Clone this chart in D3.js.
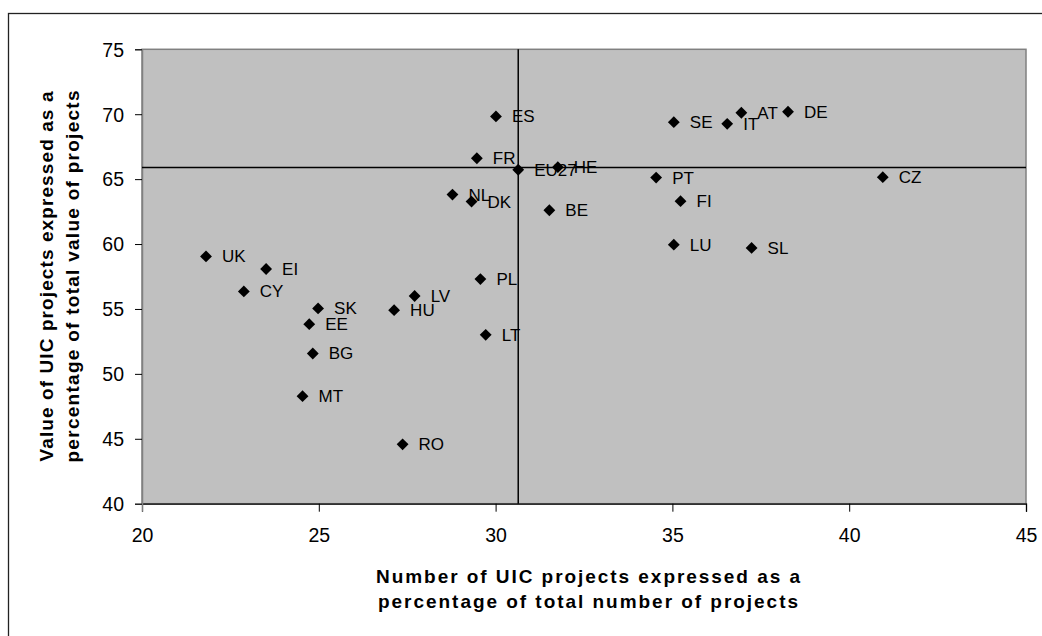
<!DOCTYPE html>
<html>
<head>
<meta charset="utf-8">
<script src="https://cdn.jsdelivr.net/npm/d3@7"></script>
<style>
  body { margin: 0; background: #fff; }
  text { font-family: "Liberation Sans", Arial, sans-serif; fill: #000; }
</style>
</head>
<body>
<div class="chart"></div>
<script>
// country codes and values (x = share of projects %, y = share of value %)
var countries = ["UK", "EI", "CY", "SK", "EE", "BG", "MT", "HU", "LV", "RO",
                 "PL", "LT", "ES", "FR", "EU27", "HE", "SE", "PT", "NL", "DK",
                 "BE", "FI", "LU", "IT", "AT", "DE", "CZ", "SL"];
var xValues = [21.81, 23.51, 22.88, 24.98, 24.73, 24.83, 24.54, 27.13, 27.71, 27.37,
               29.57, 29.72, 30.01, 29.47, 30.64, 31.76, 35.04, 34.54, 28.78, 29.32,
               31.52, 35.23, 35.04, 36.55, 36.95, 38.27, 40.95, 37.24];
var yValues = [59.05, 58.08, 56.35, 55.04, 53.83, 51.57, 48.28, 54.91, 56.0, 44.57,
               57.3, 53.01, 69.83, 66.61, 65.72, 65.92, 69.39, 65.12, 63.81, 63.27,
               62.6, 63.3, 59.95, 69.26, 70.11, 70.19, 65.15, 59.7];
var xTicks = [20, 25, 30, 35, 40, 45];
var yTicks = [40, 45, 50, 55, 60, 65, 70, 75];
var refX = 30.64;   // vertical reference line
var refY = 65.9;    // horizontal reference line

var width = 1042, height = 636;
var plotL = 142, plotR = 1026, plotT = 49.3, plotB = 503.7;

var svg = d3.select(".chart").append("svg")
    .attr("width", width)
    .attr("height", height);

// outer chart border (clipped on right and bottom)
svg.append("rect")
    .attr("x", 8.5).attr("y", 13.5)
    .attr("width", 1100).attr("height", 700)
    .attr("fill", "none").attr("stroke", "#222").attr("stroke-width", 1.3);

var x = d3.scaleLinear().domain([20, 45]).range([plotL, plotR]);
var y = d3.scaleLinear().domain([40, 75]).range([plotB, plotT]);

// plot area
svg.append("rect")
    .attr("x", plotL).attr("y", plotT)
    .attr("width", plotR - plotL).attr("height", plotB - plotT)
    .attr("fill", "#c0c0c0").attr("stroke", "#808080").attr("stroke-width", 1.5);

// axes
var xAxis = svg.append("g")
    .attr("transform", "translate(0," + plotB + ")")
    .call(d3.axisBottom(x).tickValues(xTicks).tickSize(8).tickPadding(16));
var yAxis = svg.append("g")
    .attr("transform", "translate(" + plotL + ",0)")
    .call(d3.axisLeft(y).tickValues(yTicks).tickSize(7).tickPadding(11));

xAxis.selectAll("text").style("font-size", "19.5px").attr("fill", "#000");
yAxis.selectAll("text").style("font-size", "19.5px").attr("fill", "#000").attr("dy", "0.35em");
xAxis.select(".domain").attr("stroke", "#000").attr("stroke-width", 1.3);
yAxis.select(".domain").attr("stroke", "#808080").attr("stroke-width", 1.5);
xAxis.selectAll(".tick line").attr("stroke", "#000");
yAxis.selectAll(".tick line").attr("stroke", "#000");
xAxis.selectAll(".tick").filter(function(d) { return d === 20; }).select("line").attr("stroke", "#808080");

// reference lines
svg.append("line")
    .attr("x1", x(refX)).attr("x2", x(refX))
    .attr("y1", plotT).attr("y2", plotB)
    .attr("stroke", "#000").attr("stroke-width", 1.5);
svg.append("line")
    .attr("x1", plotL).attr("x2", plotR)
    .attr("y1", y(refY)).attr("y2", y(refY))
    .attr("stroke", "#000").attr("stroke-width", 1.5);

// points
var data = countries.map(function(c, i) { return {name: c, x: xValues[i], y: yValues[i]}; });

svg.selectAll("path.pt")
    .data(data)
    .enter()
    .append("path")
    .attr("class", "pt")
    .attr("d", d3.symbol().type(d3.symbolSquare).size(70))
    .attr("transform", function(d) {
        return "translate(" + x(d.x) + "," + y(d.y) + ") rotate(45)";
    })
    .attr("fill", "#000");

svg.selectAll("text.lbl")
    .data(data)
    .enter()
    .append("text")
    .attr("class", "lbl")
    .attr("x", function(d) { return x(d.x) + 16; })
    .attr("y", function(d) { return y(d.y) + 6; })
    .style("font-size", "17px")
    .text(function(d) { return d.name; });

// axis titles
var xTitle = svg.append("text")
    .attr("text-anchor", "middle")
    .style("font-size", "19px")
    .style("font-weight", "bold");
xTitle.append("tspan").attr("x", 588).attr("y", 583.3).attr("textLength", 424)
    .text("Number of UIC projects expressed as a");
xTitle.append("tspan").attr("x", 588).attr("y", 608.3).attr("textLength", 420)
    .text("percentage of total number of projects");

var yTitle = svg.append("text")
    .attr("text-anchor", "middle")
    .attr("transform", "translate(0," + ((plotT + plotB) / 2) + ") rotate(-90)")
    .style("font-size", "19px")
    .style("font-weight", "bold");
yTitle.append("tspan").attr("x", 0).attr("y", 53).attr("textLength", 370)
    .text("Value of UIC projects expressed as a");
yTitle.append("tspan").attr("x", 0).attr("y", 78.5).attr("textLength", 372)
    .text("percentage of total value of projects");
</script>
</body>
</html>
